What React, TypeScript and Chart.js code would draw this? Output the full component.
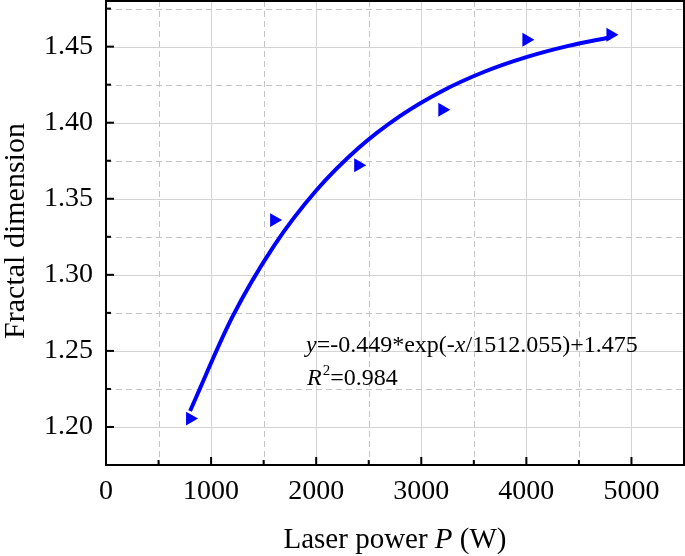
import React, { useEffect, useRef } from "react";
import { Chart, registerables } from "chart.js";

Chart.register(...registerables);

const laserPower = [800, 1600, 2400, 3200, 4000, 4800];
const fractalDimension = [1.2055, 1.336, 1.372, 1.4085, 1.4545, 1.4578];

// Fitted curve points
const fitPower = [800, 1200, 1600, 2000, 2400, 2800, 3200, 3600, 4000, 4400, 4800];
const fitDimension = [1.2105, 1.272, 1.3192, 1.3554, 1.3832, 1.4045, 1.4209, 1.4335, 1.4431, 1.4505, 1.4562];

// Axis ticks
const xMajorTicks = [0, 1000, 2000, 3000, 4000, 5000];
const xMinorTicks = [500, 1500, 2500, 3500, 4500, 5500];
const yMajorTicks = [1.2, 1.25, 1.3, 1.35, 1.4, 1.45];
const yMinorTicks = [1.175, 1.225, 1.275, 1.325, 1.375, 1.425, 1.475];

const xTitleParts = [
  { text: "Laser power ", italic: false },
  { text: "P", italic: true },
  { text: " (W)", italic: false },
];
const yTitle = "Fractal dimension";
const equationParts = [
  { text: "y", italic: true },
  { text: "=-0.449*exp(-", italic: false },
  { text: "x", italic: true },
  { text: "/1512.055)+1.475", italic: false },
];
const r2Value = "=0.984";

const FONT = "'Liberation Serif', 'Times New Roman', serif";

function drawParts(
  ctx: CanvasRenderingContext2D,
  parts: { text: string; italic: boolean }[],
  x: number,
  y: number,
  size: number,
  align: "left" | "center"
) {
  ctx.textBaseline = "alphabetic";
  ctx.textAlign = "left";
  const widths = parts.map((p) => {
    ctx.font = `${p.italic ? "italic " : ""}${size}px ${FONT}`;
    return ctx.measureText(p.text).width;
  });
  const total = widths.reduce((a, b) => a + b, 0);
  let cx = align === "center" ? x - total / 2 : x;
  parts.forEach((p, i) => {
    ctx.font = `${p.italic ? "italic " : ""}${size}px ${FONT}`;
    ctx.fillText(p.text, cx, y);
    cx += widths[i];
  });
}

const framePlugin = {
  id: "frame",
  beforeDatasetsDraw(chart: any) {
    const { ctx, chartArea: a, scales } = chart;
    const xs = scales.x;
    const ys = scales.y;
    ctx.save();
    ctx.strokeStyle = "#d4d4d4";
    ctx.lineWidth = 1;
    ctx.setLineDash([]);
    xMajorTicks.forEach((v) => {
      const px = Math.round(xs.getPixelForValue(v)) + 0.5;
      if (px <= a.left + 1) return;
      ctx.beginPath();
      ctx.moveTo(px, a.top);
      ctx.lineTo(px, a.bottom);
      ctx.stroke();
    });
    yMajorTicks.forEach((v) => {
      const py = Math.round(ys.getPixelForValue(v)) + 0.5;
      ctx.beginPath();
      ctx.moveTo(a.left, py);
      ctx.lineTo(a.right, py);
      ctx.stroke();
    });
    ctx.strokeStyle = "#c4c4c4";
    ctx.setLineDash([6, 4]);
    xMinorTicks.forEach((v) => {
      const px = Math.round(xs.getPixelForValue(v)) + 0.5;
      if (px >= a.right - 1) return;
      ctx.beginPath();
      ctx.moveTo(px, a.top);
      ctx.lineTo(px, a.bottom);
      ctx.stroke();
    });
    yMinorTicks.forEach((v) => {
      const py = Math.round(ys.getPixelForValue(v)) + 0.5;
      if (py >= a.bottom - 1) return;
      ctx.beginPath();
      ctx.moveTo(a.left, py);
      ctx.lineTo(a.right, py);
      ctx.stroke();
    });
    ctx.restore();
  },
  afterDatasetsDraw(chart: any) {
    const { ctx, chartArea: a, scales } = chart;
    const xs = scales.x;
    const ys = scales.y;
    ctx.save();
    ctx.setLineDash([]);
    ctx.strokeStyle = "#000";
    ctx.lineWidth = 2;
    ctx.strokeRect(a.left, a.top, a.right - a.left, a.bottom - a.top);
    xMajorTicks.forEach((v) => {
      const px = xs.getPixelForValue(v);
      ctx.beginPath();
      ctx.moveTo(px, a.bottom);
      ctx.lineTo(px, a.bottom - 8);
      ctx.stroke();
    });
    xMinorTicks.forEach((v) => {
      const px = xs.getPixelForValue(v);
      if (px >= a.right - 1) return;
      ctx.beginPath();
      ctx.moveTo(px, a.bottom);
      ctx.lineTo(px, a.bottom - 5);
      ctx.stroke();
    });
    yMajorTicks.forEach((v) => {
      const py = ys.getPixelForValue(v);
      ctx.beginPath();
      ctx.moveTo(a.left, py);
      ctx.lineTo(a.left + 8, py);
      ctx.stroke();
    });
    yMinorTicks.forEach((v) => {
      const py = ys.getPixelForValue(v);
      if (py >= a.bottom - 1) return;
      ctx.beginPath();
      ctx.moveTo(a.left, py);
      ctx.lineTo(a.left + 5, py);
      ctx.stroke();
    });

    ctx.fillStyle = "#000";
    drawParts(ctx, equationParts, 306, 352, 24, "left");
    ctx.font = `italic 24px ${FONT}`;
    ctx.textAlign = "left";
    ctx.fillText("R", 307, 385);
    const rw = ctx.measureText("R").width;
    ctx.font = `15px ${FONT}`;
    ctx.fillText("2", 307 + rw + 1, 375);
    const sw = ctx.measureText("2").width;
    ctx.font = `24px ${FONT}`;
    ctx.fillText(r2Value, 307 + rw + 1 + sw, 385);

    drawParts(ctx, xTitleParts, (a.left + a.right) / 2, 548, 29, "center");
    ctx.translate(24, 231);
    ctx.rotate(-Math.PI / 2);
    ctx.font = `30px ${FONT}`;
    ctx.textAlign = "center";
    ctx.textBaseline = "alphabetic";
    ctx.fillText(yTitle, 0, 0);
    ctx.restore();
  },
};

const zeroPad = (s: any) => {
  s.paddingTop = 0;
  s.paddingBottom = 0;
  s.paddingLeft = 0;
  s.paddingRight = 0;
};

export default function App() {
  const canvasRef = useRef<HTMLCanvasElement | null>(null);

  useEffect(() => {
    if (!canvasRef.current) return;
    const chart = new Chart(canvasRef.current, {
      type: "scatter",
      data: {
        datasets: [
          {
            type: "line",
            label: "Fit",
            data: fitPower.map((x, i) => ({ x, y: fitDimension[i] })),
            borderColor: "#0000ff",
            borderWidth: 4,
            pointRadius: 0,
            cubicInterpolationMode: "monotone",
            fill: false,
          } as any,
          {
            label: "Fractal dimension",
            data: laserPower.map((x, i) => ({ x, y: fractalDimension[i] })),
            backgroundColor: "#0000ff",
            borderColor: "#0000ff",
            borderWidth: 0,
            pointStyle: "triangle",
            pointRadius: 8,
            rotation: 90,
          } as any,
        ],
      },
      options: {
        animation: false,
        responsive: true,
        maintainAspectRatio: false,
        layout: { autoPadding: false, padding: { top: 1, right: 1, left: 0, bottom: 0 } },
        plugins: {
          legend: { display: false },
          tooltip: { enabled: false },
        },
        scales: {
          x: {
            type: "linear",
            min: 0,
            max: 5500,
            afterFit: (s: any) => {
              s.height = 91;
              zeroPad(s);
            },
            afterBuildTicks: (s: any) => {
              s.ticks = xMajorTicks.map((v) => ({ value: v }));
            },
            grid: { display: false, drawTicks: false },
            border: { display: false },
            ticks: {
              padding: 10,
              color: "#000",
              font: { family: FONT, size: 28 },
              callback: (v: any) => String(v),
            },
          },
          y: {
            type: "linear",
            min: 1.175,
            max: 1.48,
            afterFit: (s: any) => {
              s.width = 106;
              zeroPad(s);
            },
            afterBuildTicks: (s: any) => {
              s.ticks = yMajorTicks.map((v) => ({ value: v }));
            },
            grid: { display: false, drawTicks: false },
            border: { display: false },
            ticks: {
              padding: 13,
              color: "#000",
              font: { family: FONT, size: 28 },
              callback: (v: any) => Number(v).toFixed(2),
            },
          },
        },
      },
      plugins: [framePlugin],
    });
    return () => chart.destroy();
  }, []);

  return (
    <div style={{ position: "absolute", left: 0, top: 0, width: 685, height: 556, background: "#fff" }}>
      <canvas ref={canvasRef} />
    </div>
  );
}
